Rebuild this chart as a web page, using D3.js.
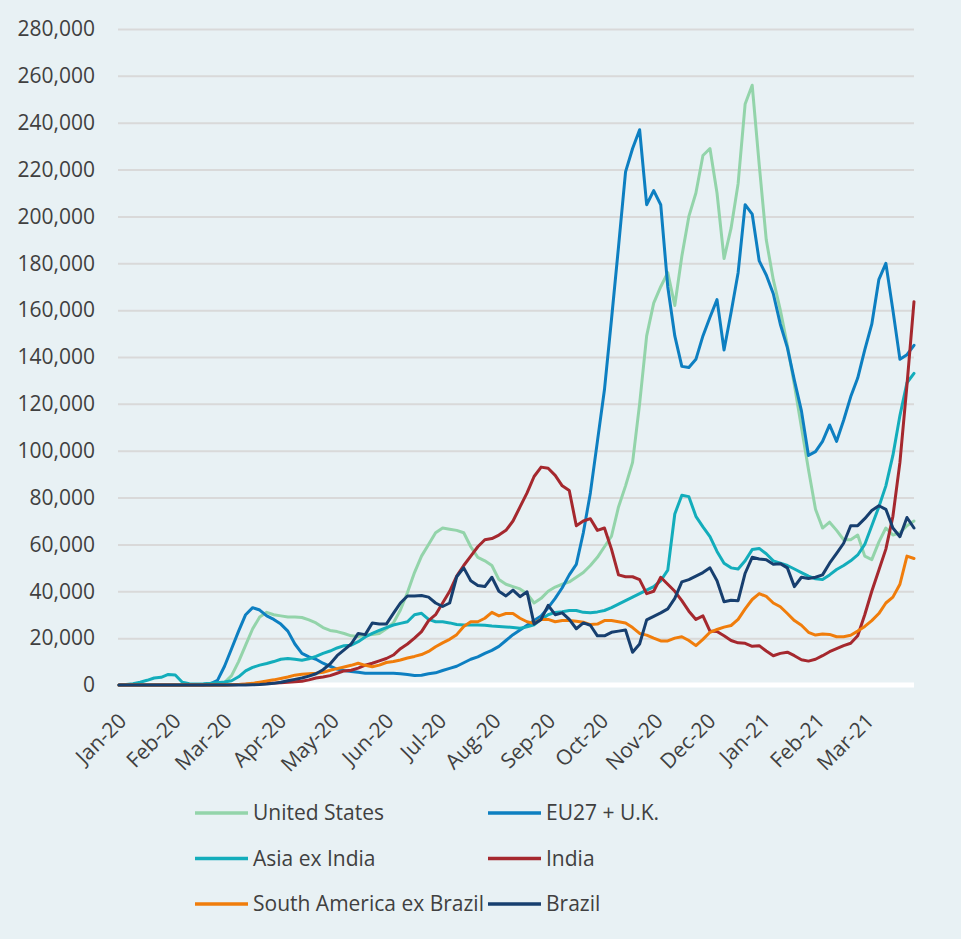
<!DOCTYPE html>
<html>
<head>
<meta charset="utf-8">
<script src="https://cdnjs.cloudflare.com/ajax/libs/d3/7.8.5/d3.min.js"></script>
<style>
  body { margin: 0; background: #e8f1f4; }
  svg { display: block; font-family: "Open Sans", sans-serif; }
</style>
</head>
<body>
<svg id="chart" width="961" height="939"></svg>
<script>

// new cases per day (thousands), one reading every 4 days from 1 Jan 2020 to 28 Mar 2021
const firstDay = new Date(2020, 0, 1)
const lastDay = new Date(2021, 2, 28)

const unitedStates = [
  0, 0, 0, 0, 0, 0, 0, 0, 0, 0,
  0, 0, 0, 0, 0.3, 1, 4, 10, 17, 24,
  29, 31, 30, 29.5, 29, 29, 28.8, 27.8, 26.5, 24.5,
  23.3, 22.8, 22, 21, 20.7, 21.2, 21.6, 22, 24, 26.5,
  32, 39.5, 48, 55, 60, 65, 67, 66.5, 66, 65,
  59, 54.5, 53, 51, 45, 43, 42, 41, 39, 35,
  37, 40, 41.8, 43, 44, 46, 48, 51, 54.5, 59,
  63.5, 76, 85, 95, 120, 149, 163, 170, 176, 162,
  183, 200, 210, 226, 229, 210, 182, 195, 214, 248,
  256, 222, 190, 173, 160, 145, 128, 110, 92, 75,
  67, 69.5, 66, 62, 62, 64, 55, 53.5, 61, 67,
  64, 65, 68, 70
]

const euUk = [
  0, 0, 0, 0, 0, 0, 0, 0, 0, 0,
  0, 0, 0, 0.5, 2, 8, 15.5, 23, 30, 33,
  32, 29.5, 28, 26, 23, 17.5, 13.5, 12, 11, 9.3,
  8, 6.8, 6.2, 5.8, 5.4, 5, 5, 5, 5, 5,
  4.8, 4.5, 4.1, 4.2, 4.8, 5.2, 6.2, 7.1, 8, 9.5,
  11, 12, 13.5, 14.8, 16.5, 19, 21.5, 23.5, 25.5, 27.5,
  29.5, 33, 37, 41.5, 47, 51.5, 65, 82, 104, 126,
  156, 187, 219, 229, 237, 205, 211, 205, 170, 149,
  136, 135.5, 139, 149, 157, 164.5, 143, 159, 176, 205,
  201, 181, 175, 167, 154, 144, 130, 117, 98, 99.6,
  104, 111, 104, 113, 123, 131, 143, 154, 173, 180,
  160, 139, 141, 145
]

const asiaExIndia = [
  0, 0.2, 0.5, 1.2, 2, 3, 3.3, 4.5, 4.3, 1.2,
  0.5, 0.4, 0.5, 0.7, 1, 1.3, 1.8, 3.5, 6, 7.5,
  8.5, 9.2, 10, 11, 11.3, 11, 10.6, 11.2, 12.2, 13.5,
  14.5, 15.8, 16.8, 17, 18.5, 20.5, 22, 23.3, 24.5, 25.6,
  26.3, 27, 30, 30.6, 28, 27, 27, 26.5, 25.8, 25.6,
  25.6, 25.6, 25.5, 25.2, 25, 24.8, 24.5, 24.2, 24.8, 25.7,
  28, 30, 31, 31.3, 31.8, 31.8, 31, 30.8, 31.2, 31.8,
  33, 34.5, 36, 37.5, 39, 40.5, 42, 44.5, 49, 73,
  81, 80.4, 72, 67.5, 63.3, 57, 52, 50, 49.5, 53,
  57.8, 58.3, 56, 53, 52, 51, 49.5, 48, 46.5, 45.3,
  45, 47, 49.3, 51, 53, 55.5, 60, 68, 76, 85,
  98, 115, 129, 133
]

const india = [
  0, 0, 0, 0, 0, 0, 0, 0, 0, 0,
  0, 0, 0, 0, 0, 0, 0.1, 0.2, 0.3, 0.4,
  0.5, 0.6, 0.8, 1, 1.2, 1.4, 1.6, 2.2, 3, 3.4,
  4, 5, 6, 6.3, 7.2, 8.5, 9.3, 10.3, 11.3, 12.8,
  15.5, 17.5, 20, 22.8, 27.5, 30, 35, 40, 46.5, 51,
  55, 59, 62, 62.5, 64, 66, 70, 76, 82, 89,
  93, 92.5, 89.5, 85, 83, 68, 70, 71, 66, 67,
  58, 47, 46.2, 46.2, 45, 39, 40, 46, 43, 40,
  36, 31.5, 28, 29.5, 23, 22.8, 21, 19, 18, 17.8,
  16.5, 16.8, 14.5, 12.5, 13.5, 14, 12.5, 10.8, 10.2, 11,
  12.5, 14.2, 15.5, 16.8, 17.8, 21, 30, 40, 49, 58,
  72, 95, 128, 163.6
]

const southAmericaExBrazil = [
  0, 0, 0, 0, 0, 0, 0, 0, 0, 0,
  0, 0, 0, 0, 0, 0, 0.1, 0.2, 0.4, 0.7,
  1.2, 1.7, 2.2, 2.8, 3.4, 4.2, 4.6, 4.8, 5, 5.4,
  6.3, 7, 7.7, 8.4, 9.3, 8.4, 7.8, 8.5, 9.6, 10,
  10.7, 11.5, 12.2, 13, 14.3, 16.3, 18, 19.5, 21.5, 25,
  27, 27, 28.5, 31, 29.5, 30.5, 30.5, 28.5, 27, 26.3,
  28, 28, 27, 27.5, 27.5, 27.2, 26.8, 25.8, 26, 27.5,
  27.5, 27, 26.5, 24.5, 22, 21.3, 20, 18.8, 18.8, 20,
  20.6, 19, 16.8, 19.5, 22.5, 23.7, 24.7, 25.4, 28, 32.5,
  36.5, 39, 37.8, 35, 33.4, 30.5, 27.5, 25.5, 22.5, 21.3,
  21.8, 21.6, 20.6, 20.6, 21.2, 23, 25, 27.5, 30.5, 35,
  37.5, 43, 55, 54
]

const brazil = [
  0, 0, 0, 0, 0, 0, 0, 0, 0, 0,
  0, 0, 0, 0, 0, 0, 0, 0, 0, 0.1,
  0.2, 0.4, 0.7, 1.2, 1.8, 2.4, 3, 3.8, 4.8, 6.5,
  9, 12.5, 15, 17.5, 22, 21.5, 26.5, 26, 26, 30.6,
  35, 38, 38, 38.2, 37.5, 35, 33.5, 35, 46.2, 50,
  44.5, 42.5, 42, 46, 40, 38, 40.5, 37.7, 39.8, 26,
  28, 34, 30, 30.8, 28, 24, 26.5, 25.5, 21, 21,
  22.5, 23, 23.5, 14, 17.5, 27.8, 29.3, 30.8, 32.5, 37,
  44, 45, 46.5, 48, 50, 44.5, 35.5, 36.2, 36, 47.7,
  54.5, 53.8, 53.5, 51.5, 51.8, 50, 42, 46, 45.5, 46,
  47, 52, 56.2, 60.5, 68, 68, 71, 74.5, 76.5, 75,
  67, 63.3, 71.5, 67
]

const monthLabels = ["Jan-20", "Feb-20", "Mar-20", "Apr-20", "May-20", "Jun-20", "Jul-20", "Aug-20",
                     "Sep-20", "Oct-20", "Nov-20", "Dec-20", "Jan-21", "Feb-21", "Mar-21"]
const yTicks = [0, 20, 40, 60, 80, 100, 120, 140, 160, 180, 200, 220, 240, 260, 280]

const seriesNames = ["United States", "EU27 + U.K.", "Asia ex India", "India", "South America ex Brazil", "Brazil"]
const seriesValues = [unitedStates, euUk, asiaExIndia, india, southAmericaExBrazil, brazil]
const seriesColors = ["#93d4aa", "#0d7fc1", "#13adbb", "#a5282e", "#f07d0b", "#173f6f"]

const plotLeft = 118, plotRight = 914, plotTop = 29, plotBottom = 685
const textColor = "#404040"

const svg = d3.select("#chart")

const days = d3.timeDay.range(firstDay, d3.timeDay.offset(lastDay, 1), 4)

const x = d3.scaleTime().domain([firstDay, lastDay]).range([plotLeft + 1, plotRight])
const y = d3.scaleLinear().domain([0, 280]).range([plotBottom, plotTop])

// grid + y labels
let yAxis = svg.append("g")
               .attr("transform", "translate(" + plotLeft + ",0)")
               .call(d3.axisLeft(y)
                       .tickValues(yTicks)
                       .tickSize(-(plotRight - plotLeft))
                       .tickPadding(23)
                       .tickFormat(function(d) { return d3.format(",")(d * 1000) }))

yAxis.select(".domain").remove()
yAxis.selectAll(".tick line").attr("stroke", "#d9d9d9").attr("stroke-width", 2)
yAxis.selectAll(".tick text")
     .attr("fill", textColor)
     .style("font-size", "21px")
     .style("font-family", "'Open Sans', sans-serif")

// white baseline
svg.append("line")
   .attr("x1", plotLeft).attr("x2", plotRight)
   .attr("y1", y(0)).attr("y2", y(0))
   .attr("stroke", "#ffffff")
   .attr("stroke-width", 5)

// month labels
let parseMonth = d3.timeParse("%b-%y")

let xAxis = svg.append("g")
               .attr("transform", "translate(0," + plotBottom + ")")
               .call(d3.axisBottom(x)
                       .tickValues(monthLabels.map(parseMonth))
                       .tickSize(0)
                       .tickFormat(d3.timeFormat("%b-%y")))

xAxis.select(".domain").remove()
xAxis.selectAll(".tick text")
     .attr("fill", textColor)
     .style("font-size", "21px")
     .style("font-family", "'Open Sans', sans-serif")
     .attr("text-anchor", "end")
     .attr("x", 0)
     .attr("y", 0)
     .attr("dy", "0.35em")
     .attr("transform", "translate(3,32) rotate(-45)")

// lines
let line = d3.line()
             .x(function(d) { return x(d[0]) })
             .y(function(d) { return y(d[1]) })

seriesValues.forEach(function(values, i) {

  let points = values.map(function(v, j) { return [days[j], v] })

  svg.append("path")
     .datum(points)
     .attr("d", line)
     .attr("fill", "none")
     .attr("stroke", seriesColors[i])
     .attr("stroke-width", 3)
     .attr("stroke-linejoin", "round")
     .attr("stroke-linecap", "round")

})

// legend
let legend = svg.append("g")

seriesNames.forEach(function(name, i) {

  let lx = [195, 488][i % 2]
  let ly = 813 + Math.floor(i / 2) * 45.5

  legend.append("line")
        .attr("x1", lx).attr("x2", lx + 53)
        .attr("y1", ly).attr("y2", ly)
        .attr("stroke", seriesColors[i])
        .attr("stroke-width", 3.5)

  legend.append("text")
        .attr("x", lx + 58)
        .attr("y", ly)
        .attr("dy", "0.35em")
        .attr("fill", textColor)
        .style("font-size", "21px")
        .text(name)

})

</script>
</body>
</html>
